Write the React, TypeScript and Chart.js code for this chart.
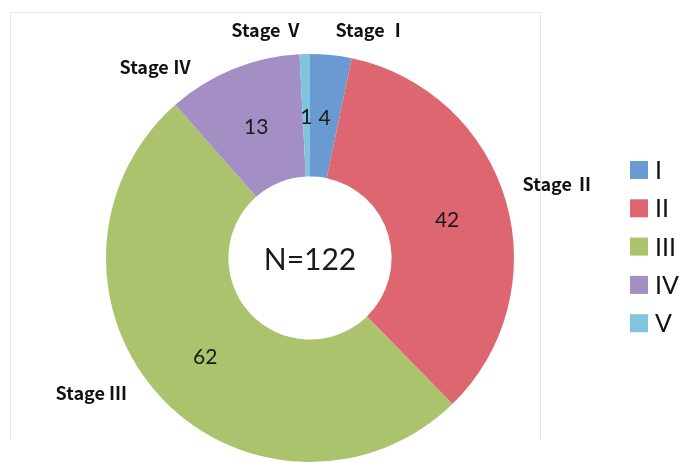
import React, { useEffect, useRef } from "react";
import { Chart, registerables } from "chart.js";

Chart.register(...registerables);

const categories = ["I", "II", "III", "IV", "V"];
const stageLabels = ["Stage Ⅰ", "Stage Ⅱ", "Stage Ⅲ", "Stage Ⅳ", "Stage Ⅴ"];
const counts = [4, 42, 62, 13, 1];
const totalLabel = "N=122";
const colors = ["#6b9ad2", "#de6670", "#abc36c", "#a48fc5", "#80c4dd"];

// placement of outer stage labels: angle (deg, clockwise from top) and radius factor
const stagePlacement = [
  { angle: 15, factor: 1.157 },
  { angle: 73.4, factor: 1.27 },
  { angle: 238.3, factor: 1.26 },
  { angle: -39, factor: 1.206 },
  { angle: -10.7, factor: 1.137 },
];

const labelsPlugin = {
  id: "customLabels",
  beforeDraw(chart: any) {
    const ctx = chart.ctx;
    ctx.save();
    ctx.fillStyle = "#ffffff";
    ctx.fillRect(0, 0, chart.width, chart.height);
    ctx.strokeStyle = "rgba(200,200,200,0.45)";
    ctx.lineWidth = 1;
    ctx.beginPath();
    ctx.moveTo(10.5, 440);
    ctx.lineTo(10.5, 12.5);
    ctx.lineTo(540.5, 12.5);
    ctx.lineTo(540.5, 440);
    ctx.stroke();
    ctx.restore();
  },
  afterDatasetsDraw(chart: any) {
    const ctx = chart.ctx;
    const meta = chart.getDatasetMeta(0);
    ctx.save();
    ctx.textAlign = "center";
    ctx.textBaseline = "middle";
    ctx.fillStyle = "#1a1a1a";
    ctx.font = "21px Lato, 'Open Sans', sans-serif";
    meta.data.forEach((arc: any, i: number) => {
      const p = arc.tooltipPosition();
      ctx.fillText(String(counts[i]), p.x, p.y + 2);
    });
    const first = meta.data[0];
    const cx = first.x;
    const cy = first.y;
    const r = first.outerRadius;
    ctx.font = "30px Lato, 'Open Sans', sans-serif";
    ctx.fillText(totalLabel, cx, cy + 2);

    ctx.font = "bold 18px 'Noto Sans CJK JP', sans-serif";
    ctx.fillStyle = "#111111";
    stageLabels.forEach((lab, i) => {
      const pl = stagePlacement[i];
      const a = (pl.angle * Math.PI) / 180;
      const x = cx + r * pl.factor * Math.sin(a);
      const y = cy - r * pl.factor * Math.cos(a);
      ctx.fillText(lab, x, y);
    });

    // legend
    const lx = 630;
    const ly0 = 170;
    const step = 38.3;
    const box = 18;
    ctx.textAlign = "left";
    ctx.font = "25px Lato, 'Open Sans', sans-serif";
    categories.forEach((c, i) => {
      const y = ly0 + i * step;
      ctx.fillStyle = colors[i];
      ctx.fillRect(lx, y - box / 2, box, box);
      ctx.fillStyle = "#111111";
      ctx.fillText(c, lx + box + 7, y + 1);
    });
    ctx.restore();
  },
};

export default function App() {
  const ref = useRef<HTMLCanvasElement | null>(null);
  useEffect(() => {
    if (!ref.current) return;
    const chart = new Chart(ref.current, {
      type: "doughnut",
      data: {
        labels: categories,
        datasets: [
          {
            data: counts,
            backgroundColor: colors,
            borderWidth: 0,
          },
        ],
      },
      options: {
        responsive: false,
        animation: false,
        cutout: "40%",
        layout: { padding: { left: 106, right: 172, top: 54, bottom: 0 } },
        plugins: {
          legend: { display: false },
          tooltip: { enabled: false },
        },
      },
      plugins: [labelsPlugin],
    });
    return () => chart.destroy();
  }, []);
  return (
    <div style={{ position: "absolute", left: 0, top: 0, width: 686, height: 462 }}>
      <canvas ref={ref} width={686} height={462} />
    </div>
  );
}
